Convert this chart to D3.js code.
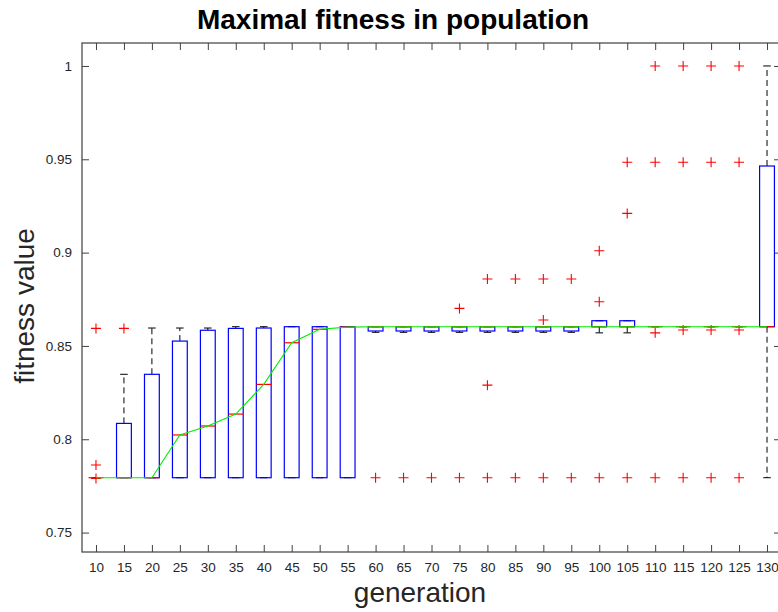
<!DOCTYPE html>
<html>
<head>
<meta charset="utf-8">
<script src="https://cdn.jsdelivr.net/npm/d3@7"></script>
<style>
  body { margin: 0; background: #fff; }
  svg { font-family: "Liberation Sans", Arial, Helvetica, sans-serif; }
</style>
</head>
<body>
<svg id="chart" width="778" height="612"></svg>
<script>
// box statistics per generation
const generations = [10, 15, 20, 25, 30, 35, 40, 45, 50, 55, 60, 65, 70, 75, 80, 85, 90, 95, 100, 105, 110, 115, 120, 125, 130];
const q1 = [0.7794, 0.7794, 0.7794, 0.7794, 0.7794, 0.7794, 0.7794, 0.7794, 0.7794, 0.7794,
  0.858, 0.858, 0.858, 0.858, 0.858, 0.858, 0.858, 0.858,
  0.8603, 0.8603, 0.8603, 0.8603, 0.8603, 0.8603, 0.8603];
const medians = [0.7794, 0.7794, 0.7794, 0.8023, 0.8071, 0.8135, 0.8294, 0.8517, 0.8589, 0.8601,
  0.8603, 0.8603, 0.8603, 0.8603, 0.8603, 0.8603, 0.8603, 0.8603,
  0.8603, 0.8603, 0.8603, 0.8603, 0.8603, 0.8603, 0.8603];
const q3 = [0.7794, 0.8085, 0.8348, 0.8526, 0.8584, 0.8594, 0.8596, 0.8603, 0.8603, 0.8603,
  0.8603, 0.8603, 0.8603, 0.8603, 0.8603, 0.8603, 0.8603, 0.8603,
  0.8635, 0.8635, 0.8603, 0.8603, 0.8603, 0.8603, 0.9464];
const whiskerLo = [0.7794, 0.7794, 0.7794, 0.7794, 0.7794, 0.7794, 0.7794, 0.7794, 0.7794, 0.7794,
  0.8573, 0.8573, 0.8573, 0.8573, 0.8573, 0.8573, 0.8573, 0.8573,
  0.857, 0.857, 0.8603, 0.8603, 0.8603, 0.8603, 0.7794];
const whiskerHi = [0.7794, 0.8348, 0.8596, 0.8596, 0.8596, 0.8603, 0.8603, 0.8603, 0.8603, 0.8603,
  0.8603, 0.8603, 0.8603, 0.8603, 0.8603, 0.8603, 0.8603, 0.8603,
  0.8635, 0.8635, 0.8603, 0.8603, 0.8603, 0.8603, 1.0];
const outliers = [
  [0.8594, 0.7862, 0.779],
  [0.8594],
  [], [], [], [], [], [], [], [],
  [0.7794], [0.7794], [0.7794],
  [0.8701, 0.7794],
  [0.8859, 0.829, 0.7794],
  [0.8859, 0.7794],
  [0.8859, 0.8639, 0.7794],
  [0.8859, 0.7794],
  [0.901, 0.8737, 0.7794],
  [0.9484, 0.921, 0.7794],
  [1.0, 0.9484, 0.857, 0.7794],
  [1.0, 0.9484, 0.8585, 0.7794],
  [1.0, 0.9484, 0.8585, 0.7794],
  [1.0, 0.9484, 0.8585, 0.7794],
  []
];
const yTicks = [0.75, 0.8, 0.85, 0.9, 0.95, 1];

const svg = d3.select("#chart"),
  mLeft = 82, mRight = 781, mTop = 43, mBottom = 552;

const x = d3.scaleLinear().domain([0.5, generations.length + 0.5]).range([mLeft, mRight]);
const y = d3.scaleLinear().domain([0.7396, 1.0123]).range([mBottom, mTop]);

const step = x(2) - x(1),
  boxW = step * 0.53,
  capW = step * 0.27;

const stats = generations.map((g, i) => ({
  g: g, i: i + 1, q1: q1[i], med: medians[i], q3: q3[i],
  lo: whiskerLo[i], hi: whiskerHi[i], out: outliers[i]
}));

// axes: ticks point inwards, box on all sides
const axisColor = "#404040";
svg.append("g")
  .attr("transform", `translate(0,${mBottom})`)
  .call(d3.axisBottom(x).tickValues(stats.map(d => d.i)).tickFormat((d, i) => generations[i])
    .tickSizeInner(-7).tickSizeOuter(0).tickPadding(10))
  .call(g => g.select(".domain").remove());
svg.append("g")
  .attr("transform", `translate(0,${mTop})`)
  .call(d3.axisTop(x).tickValues(stats.map(d => d.i)).tickFormat("")
    .tickSizeInner(-7).tickSizeOuter(0))
  .call(g => g.select(".domain").remove());
svg.append("g")
  .attr("transform", `translate(${mLeft},0)`)
  .call(d3.axisLeft(y).tickValues(yTicks).tickFormat(d3.format("~g"))
    .tickSizeInner(-7).tickSizeOuter(0).tickPadding(10))
  .call(g => g.select(".domain").remove());
svg.append("g")
  .attr("transform", `translate(${mRight},0)`)
  .call(d3.axisRight(y).tickValues(yTicks).tickFormat("")
    .tickSizeInner(-7).tickSizeOuter(0))
  .call(g => g.select(".domain").remove());

svg.selectAll(".tick line").attr("stroke", axisColor);
svg.selectAll(".tick text").attr("fill", "#262626").style("font-size", "13.5px")
  .style("font-family", "'Liberation Sans', Arial, sans-serif");

svg.append("rect")
  .attr("x", mLeft).attr("y", mTop)
  .attr("width", mRight - mLeft).attr("height", mBottom - mTop)
  .attr("fill", "none").attr("stroke", axisColor).attr("stroke-width", 1.2);

const plot = svg.append("g");

// whiskers
plot.selectAll(".whisker-up").data(stats.filter(d => d.hi > d.q3)).enter().append("line")
  .attr("x1", d => x(d.i)).attr("x2", d => x(d.i))
  .attr("y1", d => y(d.q3)).attr("y2", d => y(d.hi))
  .attr("stroke", "#000").attr("stroke-width", 1).attr("stroke-dasharray", "6,4");
plot.selectAll(".whisker-lo").data(stats.filter(d => d.lo < d.q1)).enter().append("line")
  .attr("x1", d => x(d.i)).attr("x2", d => x(d.i))
  .attr("y1", d => y(d.q1)).attr("y2", d => y(d.lo))
  .attr("stroke", "#000").attr("stroke-width", 1).attr("stroke-dasharray", "6,4");

// caps
["hi", "lo"].forEach(k => {
  plot.selectAll(".cap-" + k).data(stats).enter().append("line")
    .attr("x1", d => x(d.i) - capW / 2).attr("x2", d => x(d.i) + capW / 2)
    .attr("y1", d => y(d[k])).attr("y2", d => y(d[k]))
    .attr("stroke", "#000").attr("stroke-width", 1);
});

// boxes
plot.selectAll(".box").data(stats).enter().append("rect")
  .attr("x", d => x(d.i) - boxW / 2)
  .attr("y", d => y(d.q3))
  .attr("width", boxW)
  .attr("height", d => Math.max(0, y(d.q1) - y(d.q3)))
  .attr("fill", "none").attr("stroke", "#0000ff").attr("stroke-width", 1.2);

// medians
plot.selectAll(".median").data(stats).enter().append("line")
  .attr("x1", d => x(d.i) - boxW / 2).attr("x2", d => x(d.i) + boxW / 2)
  .attr("y1", d => y(d.med)).attr("y2", d => y(d.med))
  .attr("stroke", "#ff0000").attr("stroke-width", 1.2);

// outliers as "+"
const pts = [];
stats.forEach(d => d.out.forEach(v => pts.push({ i: d.i, v: v })));
plot.selectAll(".outlier").data(pts).enter().append("path")
  .attr("transform", d => `translate(${x(d.i)},${y(d.v)})`)
  .attr("d", "M-5,0H5M0,-5V5")
  .attr("stroke", "#ff0000").attr("stroke-width", 1.1).attr("fill", "none");

// median trend line
const line = d3.line().x(d => x(d.i)).y(d => y(d.med));
plot.append("path").datum(stats)
  .attr("d", line)
  .attr("fill", "none").attr("stroke", "#00ee00").attr("stroke-width", 1.1);

// labels
svg.append("text")
  .attr("x", 393).attr("y", 29)
  .attr("text-anchor", "middle")
  .style("font-size", "28px").style("font-weight", "bold")
  .attr("fill", "#000")
  .text("Maximal fitness in population");

svg.append("text")
  .attr("x", 420).attr("y", 602)
  .attr("text-anchor", "middle")
  .style("font-size", "28px")
  .attr("fill", "#262626")
  .text("generation");

svg.append("text")
  .attr("transform", `translate(34,${306}) rotate(-90)`)
  .attr("text-anchor", "middle")
  .style("font-size", "28px")
  .attr("fill", "#262626")
  .text("fitness value");
</script>
</body>
</html>
